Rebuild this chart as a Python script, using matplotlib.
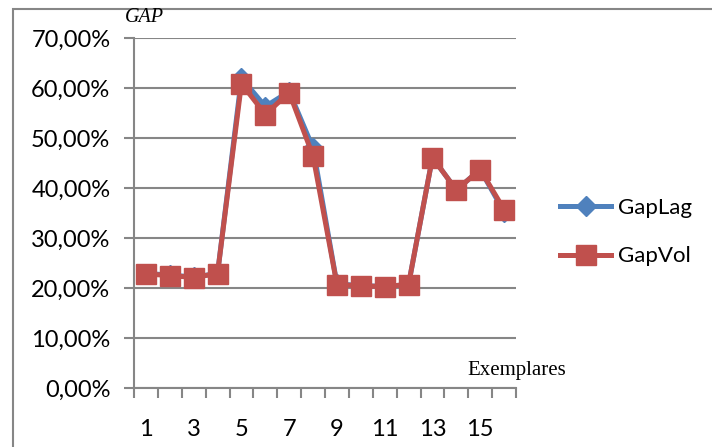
import numpy as np
import matplotlib.pyplot as plt
from matplotlib.patches import Rectangle
from matplotlib.ticker import FuncFormatter

exemplares = np.arange(1, 17)
gap_lag = [22.9, 22.6, 22.2, 22.9, 62.0, 56.3, 59.3, 48.0, 20.8, 20.5, 20.3, 20.7, 46.1, 39.6, 43.7, 35.2]
gap_vol = [22.8, 22.5, 22.1, 22.9, 60.9, 54.7, 59.1, 46.4, 20.7, 20.4, 20.3, 20.7, 46.1, 39.6, 43.7, 35.7]
tick_labels = [str(i) for i in range(1, 17, 2)]

blue = '#4F81BD'
red = '#C0504D'
grid_c = '#868686'

W, H = 712, 447
fig = plt.figure(figsize=(W / 100, H / 100), dpi=100)
ax = fig.add_axes([134 / W, 1 - 388 / H, (516 - 134) / W, (388 - 38) / H])

# outer chart border
fig.patches.append(Rectangle((13 / W, -0.1), 1.2, 1 - 9 / H + 0.1, transform=fig.transFigure,
                             fill=False, edgecolor=grid_c, linewidth=1.5))

ax.plot(exemplares, gap_lag, color=blue, lw=3.6, marker='D', ms=10, mec=blue, label='GapLag')
ax.plot(exemplares, gap_vol, color=red, lw=3.6, marker='s', ms=14, mec=red, label='GapVol')

ax.set_xlim(0.5, 16.5)
ax.set_ylim(0, 70)
ax.set_yticks(np.arange(0, 71, 10))
ax.yaxis.set_major_formatter(FuncFormatter(lambda v, p: f'{v:.2f}%'.replace('.', ',')))
ax.set_xticks(range(1, 17, 2))
ax.set_xticklabels(tick_labels)
ax.set_xticks(np.arange(0.5, 17, 1), minor=True)
ax.tick_params(axis='x', which='major', length=0, pad=22)
ax.tick_params(axis='x', which='minor', length=7, width=1.5, color=grid_c, direction='out')
ax.tick_params(axis='y', length=7, width=1.5, color=grid_c, pad=10)
ax.tick_params(labelsize=17)
for lab in ax.get_xticklabels() + ax.get_yticklabels():
    lab.set_family('Lato')

ax.grid(axis='y', color=grid_c, lw=1.5)
ax.set_axisbelow(True)
for s in ['top', 'right']:
    ax.spines[s].set_visible(False)
for s in ['left', 'bottom']:
    ax.spines[s].set_color(grid_c)
    ax.spines[s].set_linewidth(1.5)

fig.text(125 / W, 1 - 18 / H, 'GAP', family='Liberation Serif', style='italic', fontsize=14.5,
         va='center', ha='left')
fig.text(467 / W, 1 - 370 / H, 'Exemplares', family='Liberation Serif', fontsize=15,
         va='center', ha='left')

fig.legend(loc='center left', bbox_to_anchor=(540 / W, 1 - 232 / H), frameon=False,
           handlelength=2.3, labelspacing=1.3, handletextpad=0.3,
           prop={'family': 'Lato', 'size': 16})

fig.savefig('out.png', dpi=100)
